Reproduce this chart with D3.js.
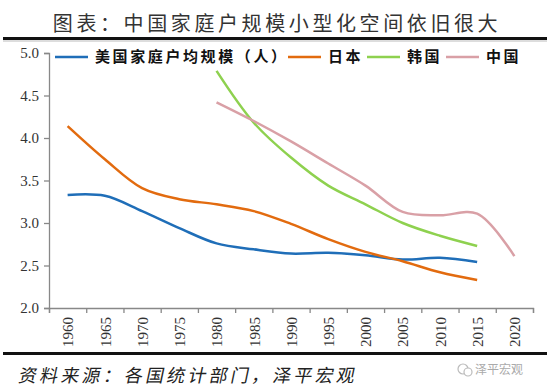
<!DOCTYPE html>
<html>
<head>
<meta charset="utf-8">
<script src="https://d3js.org/d3.v7.min.js"></script>
<style>
  body { margin: 0; background: #fff; }
  svg { display: block; }
</style>
</head>
<body>
<div id="chart"></div>
<script>
const years = [1960, 1965, 1970, 1975, 1980, 1985, 1990, 1995, 2000, 2005, 2010, 2015, 2020];
const usa   = [3.33, 3.32, 3.14, 2.94, 2.76, 2.69, 2.64, 2.65, 2.62, 2.57, 2.59, 2.54, null];
const japan = [4.14, 3.75, 3.41, 3.28, 3.22, 3.14, 2.99, 2.81, 2.66, 2.55, 2.42, 2.33, null];
const korea = [null, null, null, null, 4.79, 4.18, 3.77, 3.44, 3.22, 3.0, 2.85, 2.73, null];
const china = [null, null, null, null, 4.42, 4.2, 3.96, 3.70, 3.44, 3.13, 3.09, 3.11, 2.61];
const seriesNames = ['美国家庭户均规模（人）', '日本', '韩国', '中国'];
const colors = ['#1F6EB8', '#E26B0F', '#8ED14F', '#D9A0A6'];
const yTicks = [2.0, 2.5, 3.0, 3.5, 4.0, 4.5, 5.0];

const width = 550, height = 389;
const margin = {top: 53, right: 17, bottom: 81, left: 49};

const svg = d3.select('#chart').append('svg')
  .attr('width', width)
  .attr('height', height);

// title and rules
svg.append('text')
  .attr('x', 277).attr('y', 31)
  .attr('text-anchor', 'middle')
  .attr('font-family', '"Noto Sans CJK SC", sans-serif')
  .attr('font-size', 20)
  .attr('letter-spacing', 3.6)
  .attr('fill', '#333')
  .text('图表：中国家庭户规模小型化空间依旧很大');
svg.append('rect').attr('x', 3).attr('y', 37).attr('width', 544).attr('height', 3).attr('fill', '#111');
svg.append('line').attr('x1', 3).attr('x2', 547).attr('y1', 41).attr('y2', 41).attr('stroke', '#bbb');
svg.append('rect').attr('x', 3).attr('y', 352).attr('width', 544).attr('height', 3).attr('fill', '#111');

const x = d3.scaleLinear()
  .domain([1957.5, 2022.5])
  .range([margin.left, width - margin.right]);
const y = d3.scaleLinear()
  .domain([2, 5])
  .range([308, margin.top]);

// x axis: ticks on band edges, labels at band centres
const edges = d3.range(1957.5, 2023, 5);
const gx = svg.append('g').attr('transform', 'translate(0,308)');
gx.call(d3.axisBottom(x).tickValues(edges).tickSize(5).tickFormat(''));
gx.selectAll('path, line').attr('stroke', '#888').attr('stroke-width', 1.3);

const gxl = svg.append('g').attr('transform', 'translate(0,308)');
gxl.call(d3.axisBottom(x).tickValues(years).tickSize(0).tickFormat(d3.format('d')));
gxl.select('.domain').remove();
gxl.attr('font-size', 15).attr('font-family', '"Liberation Serif", serif');
gxl.selectAll('text')
  .attr('fill', '#333')
  .attr('text-anchor', 'end')
  .attr('transform', 'rotate(-90)')
  .attr('x', -9)
  .attr('y', 0)
  .attr('dy', '0.35em');

// y axis
const gy = svg.append('g').attr('transform', `translate(${margin.left},0)`);
gy.call(d3.axisLeft(y).tickValues(yTicks).tickSize(5).tickFormat(d3.format('.1f')));
gy.attr('font-size', 15).attr('font-family', '"Liberation Serif", serif');
gy.selectAll('path, line').attr('stroke', '#888').attr('stroke-width', 1.3);
gy.selectAll('text')
  .attr('fill', '#333')
  .attr('x', -10);

// lines
const allSeries = [usa, japan, korea, china];
const line = d3.line()
  .defined(d => d.v != null)
  .x(d => x(d.year))
  .y(d => y(d.v))
  .curve(d3.curveCatmullRom.alpha(0.5));

allSeries.forEach((vals, i) => {
  const pts = years.map((yr, j) => ({year: yr, v: vals[j]})).filter(d => d.v != null);
  svg.append('path')
    .datum(pts)
    .attr('fill', 'none')
    .attr('stroke', colors[i])
    .attr('stroke-width', 2.5)
    .attr('d', line);
});

// legend
const legendPos = [55, 288, 367, 446];
seriesNames.forEach((name, i) => {
  const g = svg.append('g').attr('transform', `translate(${legendPos[i]},57)`);
  g.append('line').attr('x1', 0).attr('x2', 33).attr('y1', 0).attr('y2', 0)
    .attr('stroke', colors[i]).attr('stroke-width', 2.5);
  g.append('text')
    .attr('x', 40).attr('y', 0).attr('dy', '0.36em')
    .attr('font-family', '"Noto Sans CJK SC", sans-serif')
    .attr('font-weight', 700)
    .attr('font-size', 15)
    .attr('letter-spacing', 2.6)
    .attr('fill', '#111')
    .text(name);
});

// source note and watermark
svg.append('text')
  .attr('x', 20).attr('y', 382)
  .attr('font-family', '"Noto Sans CJK SC", sans-serif')
  .attr('font-size', 18)
  .attr('letter-spacing', 3.2)
  .attr('fill', '#222')
  .attr('transform', 'skewX(-12) translate(79,0)')
  .text('资料来源：各国统计部门，泽平宏观');
svg.append('text')
  .attr('x', 475).attr('y', 374)
  .attr('font-family', '"Noto Sans CJK SC", sans-serif')
  .attr('font-size', 12)
  .attr('fill', '#aaa')
  .text('泽平宏观');
svg.append('circle').attr('cx', 463).attr('cy', 369).attr('r', 5)
  .attr('fill', 'none').attr('stroke', '#bbb').attr('stroke-width', 1.2);
svg.append('circle').attr('cx', 468).attr('cy', 372).attr('r', 4)
  .attr('fill', '#fff').attr('stroke', '#bbb').attr('stroke-width', 1.2);
</script>
</body>
</html>
